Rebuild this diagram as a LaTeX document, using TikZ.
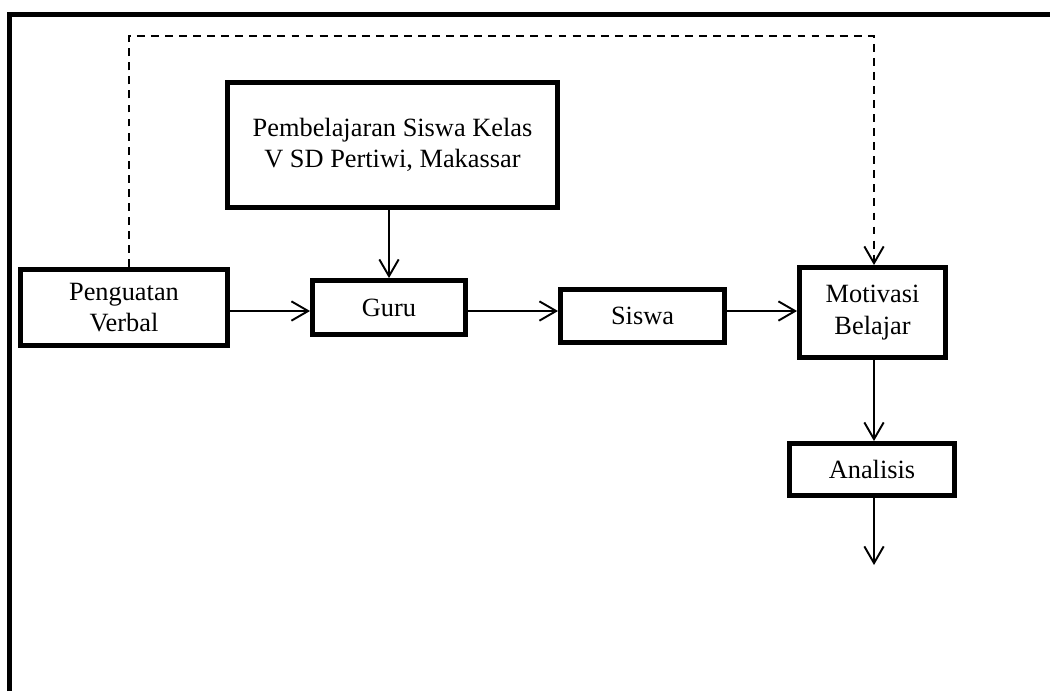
\documentclass[tikz,border=0pt]{standalone}
\usepackage{fontspec}
\setmainfont{Liberation Serif}
\usetikzlibrary{arrows.meta}
\tikzset{
	blok/.style={draw, line width=2.8pt, align=center, inner sep=0pt,
		font=\fontsize{15}{18}\selectfont},
	panah/.style={line width=1.1pt, -{Straight Barb[length=9.5pt, width=11pt, line width=1.1pt]}},
}
\begin{document}
\begin{tikzpicture}[x=0.02cm, y=-0.02cm]
		\useasboundingbox (0,0) rectangle (1050,691);
		\coordinate (DL) at (129,36);
		\coordinate (DR) at (874,36);
		\coordinate (E) at (874,565);
		% bingkai
		\draw[line width=2.8pt] (9.5,691) -- (9.5,14.5) -- (1050,14.5);
		\node[blok, minimum width=330*0.02cm, minimum height=125*0.02cm] (pemb) at (392.5,145) {Pembelajaran Siswa Kelas\\V SD Pertiwi, Makassar};
		\node[blok, minimum width=207*0.02cm, minimum height=76*0.02cm] (peng) at (124,307.5) {Penguatan\\Verbal};
		\node[blok, minimum width=153*0.02cm, minimum height=54*0.02cm] (guru) at (389,307.5) {Guru};
		\node[blok, minimum width=164*0.02cm, minimum height=53*0.02cm] (siswa) at (642.5,316) {Siswa};
		\node[blok, minimum width=146*0.02cm, minimum height=90*0.02cm] (motiv) at (872.5,312.5) {Motivasi\\Belajar};
		\node[blok, minimum width=165*0.02cm, minimum height=52*0.02cm] (anal) at (872,469.5) {Analisis};
		\draw[panah] (pemb.south -| guru) -- (guru);
		\draw[panah] (peng.east |- 0,311) -- (guru.west |- 0,311);
		\draw[panah] (guru.east |- 0,311) -- (siswa.west |- 0,311);
		\draw[panah] (siswa.east |- 0,311) -- (motiv.west |- 0,311);
		\draw[panah] (motiv.south -| E) -- (anal.north -| E);
		\draw[panah] (anal.south -| E) -- (E);
		\draw[panah, dash pattern=on 4.5pt off 3.5pt] (peng.north -| DL) -- (DL) -- (DR) -- (motiv.north -| DR);
		\end{tikzpicture}
\end{document}
